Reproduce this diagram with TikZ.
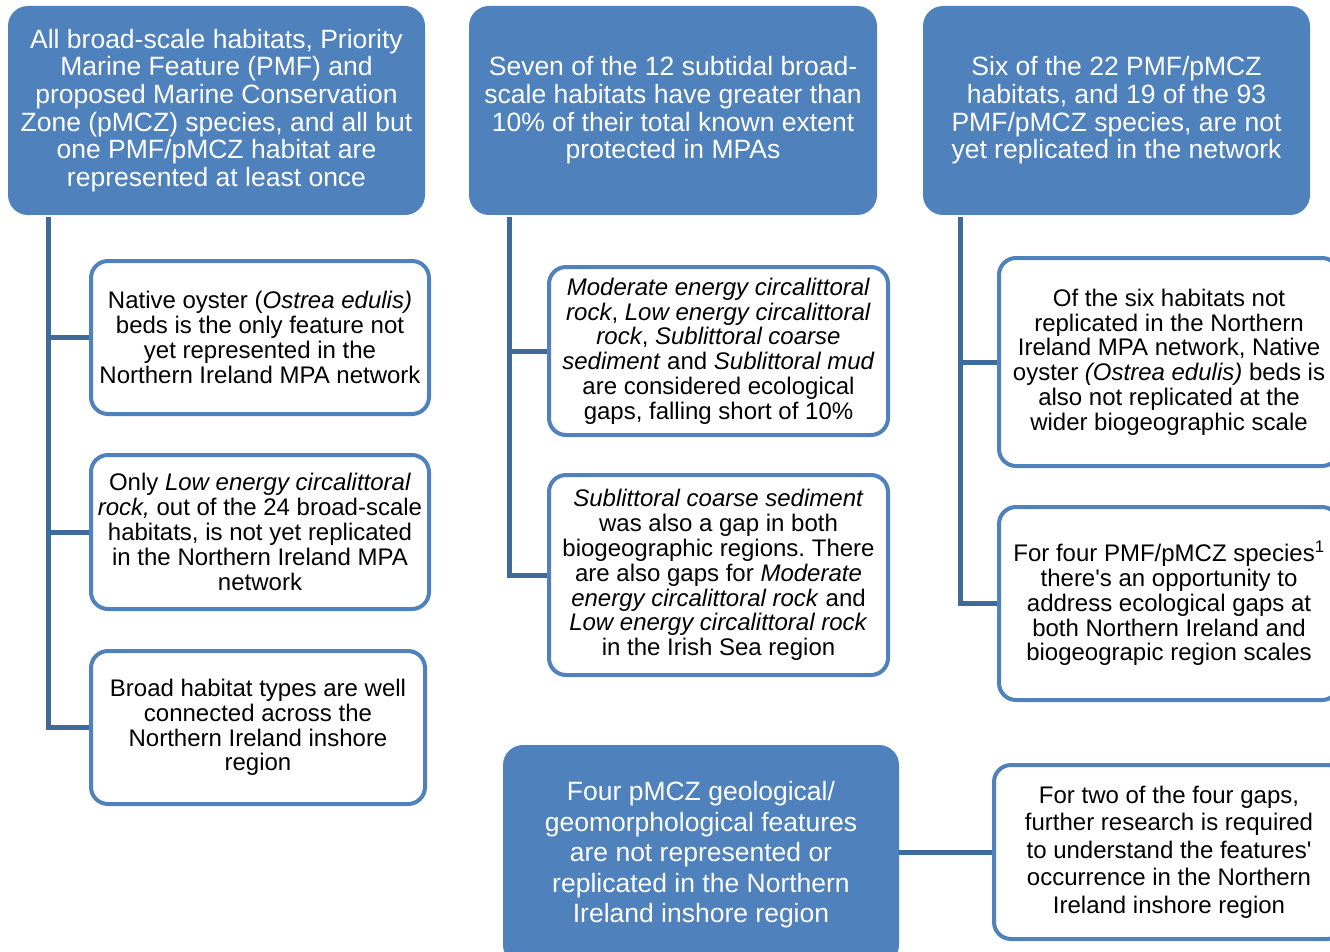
\documentclass[tikz,border=0pt]{standalone}
\usepackage{fontspec}
\setmainfont{Liberation Sans}[Ligatures=TeXOff]
\frenchspacing
\definecolor{hdrblue}{HTML}{4F81BD}
\definecolor{lineblue}{HTML}{3F6A9C}
\begin{document}
\begin{tikzpicture}[x=1pt,y=-1pt,
  hdr/.style={fill=hdrblue, draw=none, rounded corners=20pt, text=white, align=center, inner sep=0pt, font=\fontsize{26.5}{27.6}\selectfont},
  child/.style={fill=white, draw=hdrblue, line width=4pt, rounded corners=17pt, align=center, inner sep=0pt, font=\fontsize{24}{24.8}\selectfont},
  conn/.style={draw=lineblue, line width=5pt}]
\useasboundingbox (0,0) rectangle (1330,952);
\clip (0,0) rectangle (1330,952);
% headers
\node[hdr, minimum width=417pt, minimum height=209pt] (h1) at (216.5,110.5)
 {All broad-scale habitats, Priority\\Marine Feature (PMF) and\\proposed Marine Conservation\\Zone (pMCZ) species, and all but\\one PMF/pMCZ habitat are\\represented at least once};
\node[hdr, minimum width=408pt, minimum height=209pt] (h2) at (673,110.5)
 {Seven of the 12 subtidal broad-\\scale habitats have greater than\\10\% of their total known extent\\protected in MPAs};
\node[hdr, minimum width=387pt, minimum height=209pt] (h3) at (1116.5,110.5)
 {Six of the 22 PMF/pMCZ\\habitats, and 19 of the 93\\PMF/pMCZ species, are not\\yet replicated in the network};
\node[hdr, minimum width=396pt, minimum height=220pt, font=\fontsize{26.5}{30.5}\selectfont] (h4) at (701,855)
 {Four pMCZ geological/\\geomorphological features\\are not represented or\\replicated in the Northern\\Ireland inshore region};
% children column 1
\node[child, minimum width=338pt, minimum height=153pt] (c1a) at (260,337.5)
 {Native oyster (\textit{Ostrea edulis)}\\beds is the only feature not\\yet represented in the\\Northern Ireland MPA network};
\node[child, minimum width=338pt, minimum height=154pt] (c1b) at (260,532)
 {Only \textit{Low energy circalittoral}\\\textit{rock,} out of the 24 broad-scale\\habitats, is not yet replicated\\in the Northern Ireland MPA\\network};
\node[child, minimum width=334pt, minimum height=153pt] (c1c) at (258,727.5)
 {Broad habitat types are well\\connected across the\\Northern Ireland inshore\\region};
% children column 2
\node[child, minimum width=339pt, minimum height=168pt] (c2a) at (718.5,351)
 {\textit{Moderate energy circalittoral}\\\textit{rock}, \textit{Low energy circalittoral}\\\textit{rock}, \textit{Sublittoral coarse}\\\textit{sediment} and \textit{Sublittoral mud}\\are considered ecological\\gaps, falling short of 10\%};
\node[child, minimum width=339pt, minimum height=200pt] (c2b) at (718.5,575)
 {\textit{Sublittoral coarse sediment}\\was also a gap in both\\biogeographic regions. There\\are also gaps for \textit{Moderate}\\\textit{energy circalittoral rock} and\\\textit{Low energy circalittoral rock}\\in the Irish Sea region};
% children column 3
\node[child, minimum width=340pt, minimum height=208pt] (c3a) at (1169,362)
 {Of the six habitats not\\replicated in the Northern\\Ireland MPA network, Native\\oyster \textit{(Ostrea edulis)} beds is\\also not replicated at the\\wider biogeographic scale};
\node[child, minimum width=340pt, minimum height=193pt] (c3b) at (1169,603.5)
 {For four PMF/pMCZ species\textsuperscript{1}\\there's an opportunity to\\address ecological gaps at\\both Northern Ireland and\\biogeograpic region scales};
% bottom child
\node[child, minimum width=350pt, minimum height=174pt, font=\fontsize{24}{27.5}\selectfont] (c4) at (1169,852)
 {For two of the four gaps,\\further research is required\\to understand the features'\\occurrence in the Northern\\Ireland inshore region};
% trunks
\coordinate (t1) at (48,217);
\coordinate (t2) at (509,217);
\coordinate (t3) at (960,217);
\draw[conn] (t1) |- (c1c.west);
\draw[conn] (t1 |- c1a.west) -- (c1a.west);
\draw[conn] (t1 |- c1b.west) -- (c1b.west);
\draw[conn] (t2) |- (c2b.west);
\draw[conn] (t2 |- c2a.west) -- (c2a.west);
\draw[conn] (t3) |- (c3b.west);
\draw[conn] (t3 |- c3a.west) -- (c3a.west);
\draw[conn] (h4.east |- c4.west) -- (c4.west);
\end{tikzpicture}
\end{document}
